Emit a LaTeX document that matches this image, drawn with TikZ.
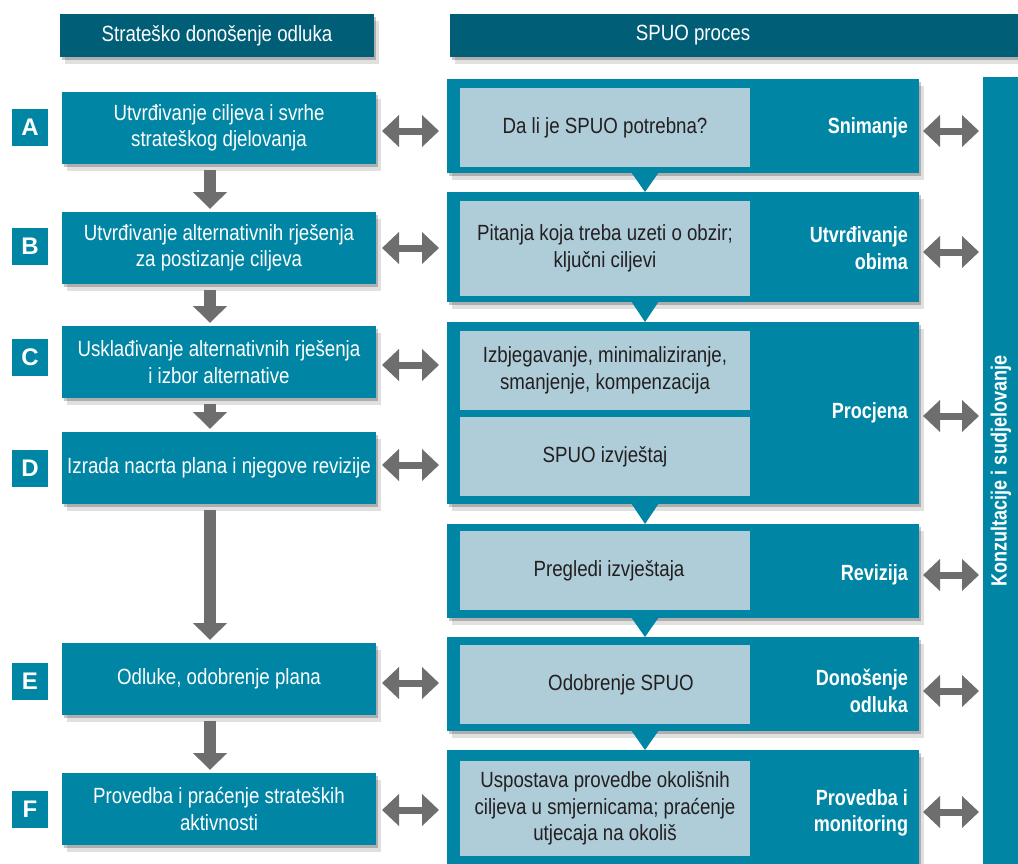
\documentclass[tikz,border=0pt]{standalone}
\usepackage{fontspec}
\setmainfont{Liberation Sans}[FakeStretch=0.85, BoldFeatures={FakeStretch=0.82}]
\newfontfamily\letfont{Liberation Sans}
\usetikzlibrary{arrows.meta,shadows,calc}
\definecolor{hdrc}{HTML}{005F77}
\definecolor{boxc}{HTML}{0086A4}
\definecolor{lightc}{HTML}{AECDD8}
\definecolor{arrc}{HTML}{6E6E6E}
\definecolor{txtc}{HTML}{231F20}
\begin{document}
\begin{tikzpicture}[x=1pt,y=-1pt,
  every node/.style={inner sep=0pt, outer sep=0pt},
  txt/.style={font=\fontsize{22}{26.5}\selectfont},
  shad/.style={drop shadow={shadow xshift=2pt,shadow yshift=-3pt,fill=black,opacity=0.22},
               drop shadow={shadow xshift=5pt,shadow yshift=-7pt,fill=black,opacity=0.12}},
  hdr/.style={fill=hdrc, text=white, txt, minimum height=43pt, shad},
  hdrtxt/.style={text=white, txt},
  lbox/.style={fill=boxc, text=white, txt, align=center, minimum width=314pt, minimum height=72pt, shad},
  lett/.style={fill=boxc, text=white, font=\letfont\fontsize{24}{24}\selectfont\bfseries, minimum width=36pt, minimum height=37pt},
  obox/.style={fill=boxc, minimum width=472pt, shad},
  ibox/.style={fill=lightc, text=txtc, txt, align=center, minimum width=290pt},
  lab/.style={text=white, txt, font=\fontsize{22}{26.5}\selectfont\bfseries, align=right, anchor=east},
  dbl/.style={draw=arrc, line width=7pt, {Triangle[width=31pt,length=17pt]}-{Triangle[width=31pt,length=17pt]}},
  down/.style={draw=arrc, line width=12pt, -{Triangle[width=33pt,length=17pt]}, shorten <=6pt, shorten >=3pt},
  ptr/.style={fill=boxc}
]
\useasboundingbox (0,0) rectangle (1018,863);
\fill[white] (0,0) rectangle (1018,863);

% headers
\node[hdr, minimum width=314pt] (h1) at (217,35.5) {Strateško donošenje odluka};
\node[hdr, minimum width=580pt, anchor=west] (h2) at (450,35.5) {};
\node[hdrtxt] (h2t) at (693,35.5) {SPUO proces};

% left boxes
\node[lbox] (A) at (219,128) {Utvrđivanje ciljeva i svrhe\\strateškog djelovanja};
\node[lbox] (B) at (219,248) {Utvrđivanje alternativnih rješenja\\za postizanje ciljeva};
\node[lbox] (C) at (219,362) {Usklađivanje alternativnih rješenja\\i izbor alternative};
\node[lbox] (D) at (219,468) {Izrada nacrta plana i njegove revizije};
\node[lbox] (E) at (219,679) {Odluke, odobrenje plana};
\node[lbox] (F) at (219,809) {Provedba i praćenje strateških\\aktivnosti};

% letters
\node[lett] (LA) at (30,127.5) {A};
\node[lett] (LB) at (30,246.5) {B};
\node[lett] (LC) at (30,357.5) {C};
\node[lett] (LD) at (30,468.5) {D};
\node[lett] (LE) at (30,681) {E};
\node[lett] (LF) at (30,809.5) {F};

% right outer boxes
\node[obox, minimum height=94pt] (oA) at (683,126) {};
\node[obox, minimum height=110pt] (oB) at (683,247) {};
\node[obox, minimum height=182pt] (oC) at (683,413) {};
\node[obox, minimum height=94pt] (oD) at (683,571) {};
\node[obox, minimum height=94pt] (oE) at (683,684) {};
\node[obox, minimum height=124pt] (oF) at (683,812) {};

% pointers between outer boxes
\fill[ptr] ([xshift=-52pt,yshift=1pt]oA.south) -- ([xshift=-24pt,yshift=1pt]oA.south) -- ([xshift=-38pt]oB.north) -- cycle;
\fill[ptr] ([xshift=-52pt,yshift=1pt]oB.south) -- ([xshift=-24pt,yshift=1pt]oB.south) -- ([xshift=-38pt]oC.north) -- cycle;
\fill[ptr] ([xshift=-52pt,yshift=1pt]oC.south) -- ([xshift=-24pt,yshift=1pt]oC.south) -- ([xshift=-38pt]oD.north) -- cycle;
\fill[ptr] ([xshift=-52pt,yshift=1pt]oD.south) -- ([xshift=-24pt,yshift=1pt]oD.south) -- ([xshift=-38pt]oE.north) -- cycle;
\fill[ptr] ([xshift=-52pt,yshift=1pt]oE.south) -- ([xshift=-24pt,yshift=1pt]oE.south) -- ([xshift=-38pt]oF.north) -- cycle;

% inner boxes
\node[ibox, minimum height=79pt] (iA) at (605,127.5) {Da li je SPUO potrebna?};
\node[ibox, minimum height=95pt] (iB) at (605,248.5) {Pitanja koja treba uzeti o obzir;\\ključni ciljevi};
\node[ibox, minimum height=79pt] (iC1) at (605,370.5) {Izbjegavanje, minimaliziranje,\\smanjenje, kompenzacija};
\node[ibox, minimum height=79pt] (iC2) at (605,456.5) {SPUO izvještaj};
\node[ibox, minimum height=79pt] (iD) at (605,570.5) {\hspace*{8pt}Pregledi izvještaja};
\node[ibox, minimum height=79pt] (iE) at (605,684.5) {\hspace*{32pt}Odobrenje SPUO};
\node[ibox, minimum height=95pt] (iF) at (605,808.5) {Uspostava provedbe okolišnih\\ciljeva u smjernicama; praćenje\\utjecaja na okoliš};

% phase labels
\node[lab] (lA) at (908,128) {Snimanje};
\node[lab] (lB) at (908,248) {Utvrđivanje\\obima};
\node[lab] (lC) at (908,413) {Procjena};
\node[lab] (lD) at (908,575) {Revizija};
\node[lab] (lE) at (908,691) {Donošenje\\odluka};
\node[lab] (lF) at (908,813) {Provedba i\\monitoring};

% consultation bar
\node[fill=boxc, minimum width=35pt, minimum height=793pt] (bar) at (1000.5,473.5) {};
\node[rotate=90, text=white, font=\fontsize{22}{26.5}\selectfont\bfseries] (bart) at (1001,471) {Konzultacije i sudjelovanje};

% down arrows
\draw[down] ([xshift=-9pt]A.south) -- ([xshift=-9pt]B.north);
\draw[down] ([xshift=-9pt]B.south) -- ([xshift=-9pt]C.north);
\draw[down] ([xshift=-9pt]C.south) -- ([xshift=-9pt]D.north);
\draw[down] ([xshift=-9pt]D.south) -- ([xshift=-9pt]E.north);
\draw[down] ([xshift=-9pt]E.south) -- ([xshift=-9pt]F.north);

% left double arrows
\coordinate (pA) at ($(A.east)+(0,3)$);
\coordinate (pB) at ($(B.east)+(0,0)$);
\coordinate (pC) at ($(C.east)+(0,3)$);
\coordinate (pD) at ($(D.east)+(0,-3)$);
\coordinate (pE) at ($(E.east)+(0,4)$);
\coordinate (pF) at ($(F.east)+(0,1)$);
\draw[dbl, shorten <=6pt, shorten >=8pt] (pA) -- (pA -| oA.west);
\draw[dbl, shorten <=6pt, shorten >=8pt] (pB) -- (pB -| oB.west);
\draw[dbl, shorten <=6pt, shorten >=8pt] (pC) -- (pC -| oC.west);
\draw[dbl, shorten <=6pt, shorten >=8pt] (pD) -- (pD -| oC.west);
\draw[dbl, shorten <=6pt, shorten >=8pt] (pE) -- (pE -| oE.west);
\draw[dbl, shorten <=6pt, shorten >=8pt] (pF) -- (pF -| oF.west);

% right double arrows
\coordinate (qA) at ($(oA.east)+(0,5)$);
\coordinate (qB) at ($(oB.east)+(0,5)$);
\coordinate (qC) at ($(oC.east)+(0,3)$);
\coordinate (qD) at ($(oD.east)+(0,4)$);
\coordinate (qE) at ($(oE.east)+(0,7)$);
\coordinate (qF) at ($(oF.east)+(0,0)$);
\draw[dbl, shorten <=4pt, shorten >=4pt] (qA) -- (qA -| bar.west);
\draw[dbl, shorten <=4pt, shorten >=4pt] (qB) -- (qB -| bar.west);
\draw[dbl, shorten <=4pt, shorten >=4pt] (qC) -- (qC -| bar.west);
\draw[dbl, shorten <=4pt, shorten >=4pt] (qD) -- (qD -| bar.west);
\draw[dbl, shorten <=4pt, shorten >=4pt] (qE) -- (qE -| bar.west);
\draw[dbl, shorten <=4pt, shorten >=4pt] (qF) -- (qF -| bar.west);
\end{tikzpicture}
\end{document}
